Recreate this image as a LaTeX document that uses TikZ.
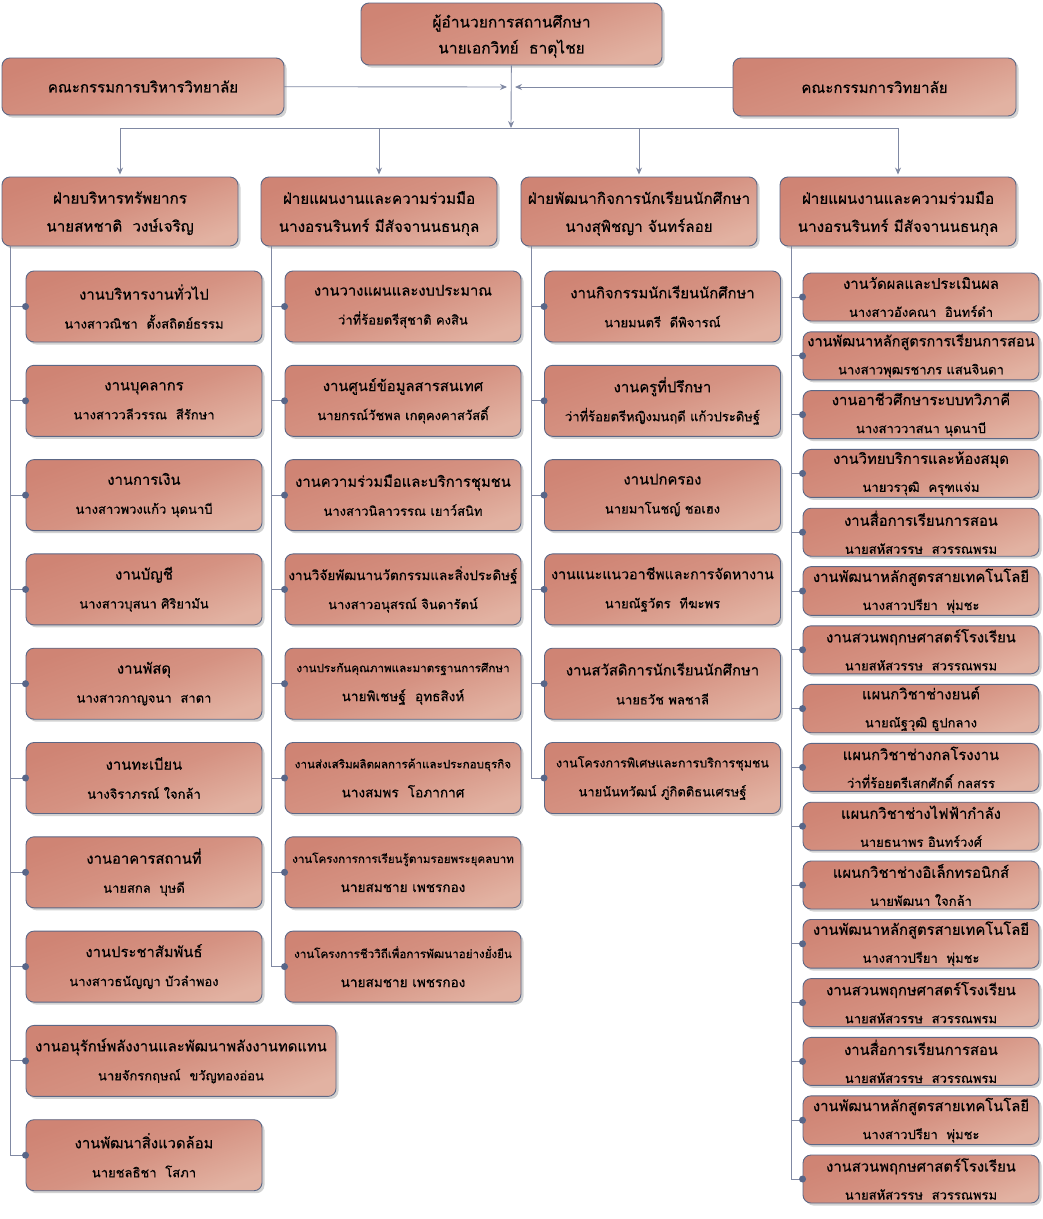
\documentclass[tikz,border=0pt]{standalone}
\usepackage{fontspec}
\usepackage{xcolor}
\usepackage{tikz}
\usetikzlibrary{shapes,arrows.meta,shadows}
\newfontfamily\thaifont[Script=Thai, FakeBold=0.5]{Loma}
\definecolor{boxdark}{RGB}{207,132,116}
\definecolor{boxmid}{RGB}{213,146,130}
\definecolor{boxlight}{RGB}{226,178,162}
\definecolor{boxedge}{RGB}{92,103,133}
\definecolor{linkgray}{RGB}{128,137,163}
\definecolor{dotblue}{RGB}{88,102,136}
\newcommand{\namesize}{\fontsize{13}{29}\selectfont}
\newcommand{\smallhead}{\fontsize{11.6}{29}\selectfont}
\tikzstyle{card} = [rectangle, draw=boxedge, line width=0.9pt, rounded corners=8pt, top color=boxdark, bottom color=boxlight, middle color=boxmid, shading angle=20, drop shadow={shadow xshift=2.5pt, shadow yshift=-2.5pt, fill=black!25, opacity=0.7}, align=center, inner xsep=1pt, inner ysep=2pt, font=\thaifont\fontsize{14.8}{29}\selectfont]
\tikzstyle{unit} = [card, minimum width=236pt, minimum height=71pt]
\tikzstyle{slim} = [card, minimum width=236pt, minimum height=48pt, font=\thaifont\fontsize{14.8}{28}\selectfont]
\tikzstyle{wing} = [card, minimum width=236pt, minimum height=69pt, text depth=0pt, font=\thaifont\fontsize{15.2}{28}\selectfont]
\tikzstyle{link} = [draw=linkgray, line width=0.9pt]
\tikzstyle{arrow} = [link, -{Stealth[length=7pt,width=6pt]}]
\tikzstyle{joint} = [fill=dotblue]

\begin{document}
\begin{tikzpicture}[x=1pt, y=1pt, node distance=94.3pt]
    \useasboundingbox (0,0) rectangle (1043,-1219);

    % top level
    \node[card, minimum width=301pt, minimum height=62pt, text depth=0pt, font=\thaifont\fontsize{15.5}{26}\selectfont] (head) at (511.5,-34) {ผู้อำนวยการสถานศึกษา\\นายเอกวิทย์~~ธาตุไชย};
    \node[card, minimum width=282pt, minimum height=57pt, font=\thaifont\fontsize{15}{29}\selectfont] (boardL) at (143,-86.5) {คณะกรรมการบริหารวิทยาลัย};
    \node[card, minimum width=283pt, minimum height=58pt, font=\thaifont\fontsize{15}{29}\selectfont] (boardR) at (874.5,-87) {คณะกรรมการวิทยาลัย};

    % divisions
    \node[wing] (div1) at (120,-211.5) {ฝ่ายบริหารทรัพยากร\\นายสหชาติ~~วงษ์เจริญ};
    \node[wing] (div2) at (379,-211.5) {ฝ่ายแผนงานและความร่วมมือ\\นางอรนรินทร์ มีสัจจานนธนกุล};
    \node[wing] (div3) at (639,-211.5) {ฝ่ายพัฒนากิจการนักเรียนนักศึกษา\\นางสุพิชญา จันทร์ลอย};
    \node[wing] (div4) at (898,-211.5) {ฝ่ายแผนงานและความร่วมมือ\\นางอรนรินทร์ มีสัจจานนธนกุล};

    \coordinate (meetL) at (507,-87);
    \coordinate (meetR) at (515,-87);
    \coordinate (bus) at (511,-128);
    \draw[arrow] (head) -- (bus);
    \draw[arrow] (boardL) -- (meetL);
    \draw[arrow] (boardR) -- (meetR);
    \draw[link] (div1.north |- bus) -- (div4.north |- bus);
    \draw[arrow] (div1.north |- bus) -- ([yshift=2pt]div1.north);
    \draw[arrow] (div2.north |- bus) -- ([yshift=2pt]div2.north);
    \draw[arrow] (div3.north |- bus) -- ([yshift=2pt]div3.north);
    \draw[arrow] (div4.north |- bus) -- ([yshift=2pt]div4.north);

    % column 1
    \node[unit] (c1a) at (144,-306.5) {งานบริหารงานทั่วไป\\ \namesize นางสาวณิชา~~ตั้งสถิตย์ธรรม};
    \node[unit, below of=c1a] (c1b) {งานบุคลากร\\ \namesize นางสาววลีวรรณ~~สีรักษา};
    \node[unit, below of=c1b] (c1c) {งานการเงิน\\ \namesize นางสาวพวงแก้ว นุดนาบี};
    \node[unit, below of=c1c] (c1d) {งานบัญชี\\ \namesize นางสาวบุสนา ศิริยามัน};
    \node[unit, below of=c1d] (c1e) {งานพัสดุ\\ \namesize นางสาวกาญจนา~~สาตา};
    \node[unit, below of=c1e] (c1f) {งานทะเบียน\\ \namesize นางจิราภรณ์ ใจกล้า};
    \node[unit, below of=c1f] (c1g) {งานอาคารสถานที่\\ \namesize นายสกล~~บุษดี};
    \node[unit, below of=c1g] (c1h) {งานประชาสัมพันธ์\\ \namesize นางสาวธนัญญา บัวลำพอง};
    \node[unit, below of=c1h, xshift=37pt, minimum width=310pt] (c1i) {งานอนุรักษ์พลังงานและพัฒนาพลังงานทดแทน\\ \namesize นายจักรกฤษณ์~~ขวัญทองอ่อน};
    \node[unit, below of=c1i, xshift=-37pt] (c1j) {งานพัฒนาสิ่งแวดล้อม\\ \namesize นายชลธิชา~~โสภา};

    % column 2
    \node[unit] (c2a) at (403,-306.5) {งานวางแผนและงบประมาณ\\ \namesize ว่าที่ร้อยตรีสุชาติ คงสิน};
    \node[unit, below of=c2a] (c2b) {งานศูนย์ข้อมูลสารสนเทศ\\ \namesize นายกรณ์วัชพล เกตุคงคาสวัสดิ์};
    \node[unit, below of=c2b] (c2c) {งานความร่วมมือและบริการชุมชน\\ \namesize นางสาวนิลาวรรณ เยาว์สนิท};
    \node[unit, below of=c2c] (c2d) {\fontsize{13.5}{29}\selectfont งานวิจัยพัฒนานวัตกรรมและสิ่งประดิษฐ์\\ \namesize นางสาวอนุสรณ์ จินดารัตน์};
    \node[unit, below of=c2d] (c2e) {\smallhead งานประกันคุณภาพและมาตรฐานการศึกษา\\ \fontsize{13.6}{29}\selectfont นายพิเชษฐ์~~อุทธสิงห์};
    \node[unit, below of=c2e] (c2f) {\smallhead งานส่งเสริมผลิตผลการค้าและประกอบธุรกิจ\\ \fontsize{13.6}{29}\selectfont นางสมพร~~โอภากาศ};
    \node[unit, below of=c2f] (c2g) {\smallhead งานโครงการการเรียนรู้ตามรอยพระยุคลบาท\\ \fontsize{13.6}{29}\selectfont นายสมชาย เพชรกอง};
    \node[unit, below of=c2g] (c2h) {\smallhead งานโครงการชีววิถีเพื่อการพัฒนาอย่างยั่งยืน\\ \fontsize{13.6}{29}\selectfont นายสมชาย เพชรกอง};

    % column 3
    \node[unit] (c3a) at (662.5,-306.5) {งานกิจกรรมนักเรียนนักศึกษา\\ \namesize นายมนตรี~~ดีพิจารณ์};
    \node[unit, below of=c3a] (c3b) {งานครูที่ปรึกษา\\ \namesize ว่าที่ร้อยตรีหญิงมนฤดี แก้วประดิษฐ์};
    \node[unit, below of=c3b] (c3c) {งานปกครอง\\ \namesize นายมาโนชญ์ ชอเฮง};
    \node[unit, below of=c3c] (c3d) {\fontsize{14.2}{29}\selectfont งานแนะแนวอาชีพและการจัดหางาน\\ \namesize นายณัฐวัตร~~ทีฆะพร};
    \node[unit, below of=c3d] (c3e) {งานสวัสดิการนักเรียนนักศึกษา\\ \namesize นายธวัช พลชาลี};
    \node[unit, below of=c3e] (c3f) {\fontsize{12.5}{29}\selectfont งานโครงการพิเศษและการบริการชุมชน\\ \namesize นายนันทวัฒน์ ภู่กิตติธนเศรษฐ์};

    % column 4
    \begin{scope}[node distance=58.8pt]
    \node[slim] (c4a) at (921,-297) {งานวัดผลและประเมินผล\\ \namesize นางสาวอังคณา~~อินทร์ดำ};
    \node[slim, below of=c4a] (c4b) {\fontsize{14.5}{28}\selectfont งานพัฒนาหลักสูตรการเรียนการสอน\\ \namesize นางสาวพุฒรชาภร แสนจินดา};
    \node[slim, below of=c4b] (c4c) {งานอาชีวศึกษาระบบทวิภาคี\\ \namesize นางสาววาสนา นุดนาบี};
    \node[slim, below of=c4c] (c4d) {งานวิทยบริการและห้องสมุด\\ \namesize นายวรวุฒิ~~ครุฑแจ่ม};
    \node[slim, below of=c4d] (c4e) {งานสื่อการเรียนการสอน\\ \namesize นายสหัสวรรษ~~สวรรณพรม};
    \node[slim, below of=c4e] (c4f) {งานพัฒนาหลักสูตรสายเทคโนโลยี\\ \namesize นางสาวปรียา~~พุ่มชะ};
    \node[slim, below of=c4f] (c4g) {งานสวนพฤกษศาสตร์โรงเรียน\\ \namesize นายสหัสวรรษ~~สวรรณพรม};
    \node[slim, below of=c4g] (c4h) {แผนกวิชาช่างยนต์\\ \namesize นายณัฐวุฒิ ธูปกลาง};
    \node[slim, below of=c4h] (c4i) {แผนกวิชาช่างกลโรงงาน\\ \namesize ว่าที่ร้อยตรีเสกศักดิ์ กลสรร};
    \node[slim, below of=c4i] (c4j) {แผนกวิชาช่างไฟฟ้ากำลัง\\ \namesize นายธนาพร อินทร์วงศ์};
    \node[slim, below of=c4j] (c4k) {แผนกวิชาช่างอิเล็กทรอนิกส์\\ \namesize นายพัฒนา ใจกล้า};
    \node[slim, below of=c4k] (c4l) {งานพัฒนาหลักสูตรสายเทคโนโลยี\\ \namesize นางสาวปรียา~~พุ่มชะ};
    \node[slim, below of=c4l] (c4m) {งานสวนพฤกษศาสตร์โรงเรียน\\ \namesize นายสหัสวรรษ~~สวรรณพรม};
    \node[slim, below of=c4m] (c4n) {งานสื่อการเรียนการสอน\\ \namesize นายสหัสวรรษ~~สวรรณพรม};
    \node[slim, below of=c4n] (c4o) {งานพัฒนาหลักสูตรสายเทคโนโลยี\\ \namesize นางสาวปรียา~~พุ่มชะ};
    \node[slim, below of=c4o] (c4p) {งานสวนพฤกษศาสตร์โรงเรียน\\ \namesize นายสหัสวรรษ~~สวรรณพรม};
    \end{scope}

    % branch lines
    \draw[link] ([xshift=9pt]div1.south west) |- (c1a.west);
    \draw[link] ([xshift=9pt]div1.south west) |- (c1b.west);
    \draw[link] ([xshift=9pt]div1.south west) |- (c1c.west);
    \draw[link] ([xshift=9pt]div1.south west) |- (c1d.west);
    \draw[link] ([xshift=9pt]div1.south west) |- (c1e.west);
    \draw[link] ([xshift=9pt]div1.south west) |- (c1f.west);
    \draw[link] ([xshift=9pt]div1.south west) |- (c1g.west);
    \draw[link] ([xshift=9pt]div1.south west) |- (c1h.west);
    \draw[link] ([xshift=9pt]div1.south west) |- (c1i.west);
    \draw[link] ([xshift=9pt]div1.south west) |- (c1j.west);
    \draw[link] ([xshift=11pt]div2.south west) |- (c2a.west);
    \draw[link] ([xshift=11pt]div2.south west) |- (c2b.west);
    \draw[link] ([xshift=11pt]div2.south west) |- (c2c.west);
    \draw[link] ([xshift=11pt]div2.south west) |- (c2d.west);
    \draw[link] ([xshift=11pt]div2.south west) |- (c2e.west);
    \draw[link] ([xshift=11pt]div2.south west) |- (c2f.west);
    \draw[link] ([xshift=11pt]div2.south west) |- (c2g.west);
    \draw[link] ([xshift=11pt]div2.south west) |- (c2h.west);
    \draw[link] ([xshift=11pt]div3.south west) |- (c3a.west);
    \draw[link] ([xshift=11pt]div3.south west) |- (c3b.west);
    \draw[link] ([xshift=11pt]div3.south west) |- (c3c.west);
    \draw[link] ([xshift=11pt]div3.south west) |- (c3d.west);
    \draw[link] ([xshift=11pt]div3.south west) |- (c3e.west);
    \draw[link] ([xshift=11pt]div3.south west) |- (c3f.west);
    \draw[link] ([xshift=12pt]div4.south west) |- (c4a.west);
    \draw[link] ([xshift=12pt]div4.south west) |- (c4b.west);
    \draw[link] ([xshift=12pt]div4.south west) |- (c4c.west);
    \draw[link] ([xshift=12pt]div4.south west) |- (c4d.west);
    \draw[link] ([xshift=12pt]div4.south west) |- (c4e.west);
    \draw[link] ([xshift=12pt]div4.south west) |- (c4f.west);
    \draw[link] ([xshift=12pt]div4.south west) |- (c4g.west);
    \draw[link] ([xshift=12pt]div4.south west) |- (c4h.west);
    \draw[link] ([xshift=12pt]div4.south west) |- (c4i.west);
    \draw[link] ([xshift=12pt]div4.south west) |- (c4j.west);
    \draw[link] ([xshift=12pt]div4.south west) |- (c4k.west);
    \draw[link] ([xshift=12pt]div4.south west) |- (c4l.west);
    \draw[link] ([xshift=12pt]div4.south west) |- (c4m.west);
    \draw[link] ([xshift=12pt]div4.south west) |- (c4n.west);
    \draw[link] ([xshift=12pt]div4.south west) |- (c4o.west);
    \draw[link] ([xshift=12pt]div4.south west) |- (c4p.west);

    % joints
    \fill[joint] (c1a.west) circle (3.5pt) (c1b.west) circle (3.5pt) (c1c.west) circle (3.5pt) (c1d.west) circle (3.5pt) (c1e.west) circle (3.5pt) (c1f.west) circle (3.5pt) (c1g.west) circle (3.5pt) (c1h.west) circle (3.5pt) (c1i.west) circle (3.5pt) (c1j.west) circle (3.5pt);
    \fill[joint] (c2a.west) circle (3.5pt) (c2b.west) circle (3.5pt) (c2c.west) circle (3.5pt) (c2d.west) circle (3.5pt) (c2e.west) circle (3.5pt) (c2f.west) circle (3.5pt) (c2g.west) circle (3.5pt) (c2h.west) circle (3.5pt);
    \fill[joint] (c3a.west) circle (3.5pt) (c3b.west) circle (3.5pt) (c3c.west) circle (3.5pt) (c3d.west) circle (3.5pt) (c3e.west) circle (3.5pt) (c3f.west) circle (3.5pt);
    \fill[joint] (c4a.west) circle (3.5pt) (c4b.west) circle (3.5pt) (c4c.west) circle (3.5pt) (c4d.west) circle (3.5pt) (c4e.west) circle (3.5pt) (c4f.west) circle (3.5pt) (c4g.west) circle (3.5pt) (c4h.west) circle (3.5pt);
    \fill[joint] (c4i.west) circle (3.5pt) (c4j.west) circle (3.5pt) (c4k.west) circle (3.5pt) (c4l.west) circle (3.5pt) (c4m.west) circle (3.5pt) (c4n.west) circle (3.5pt) (c4o.west) circle (3.5pt) (c4p.west) circle (3.5pt);
\end{tikzpicture}
\end{document}
